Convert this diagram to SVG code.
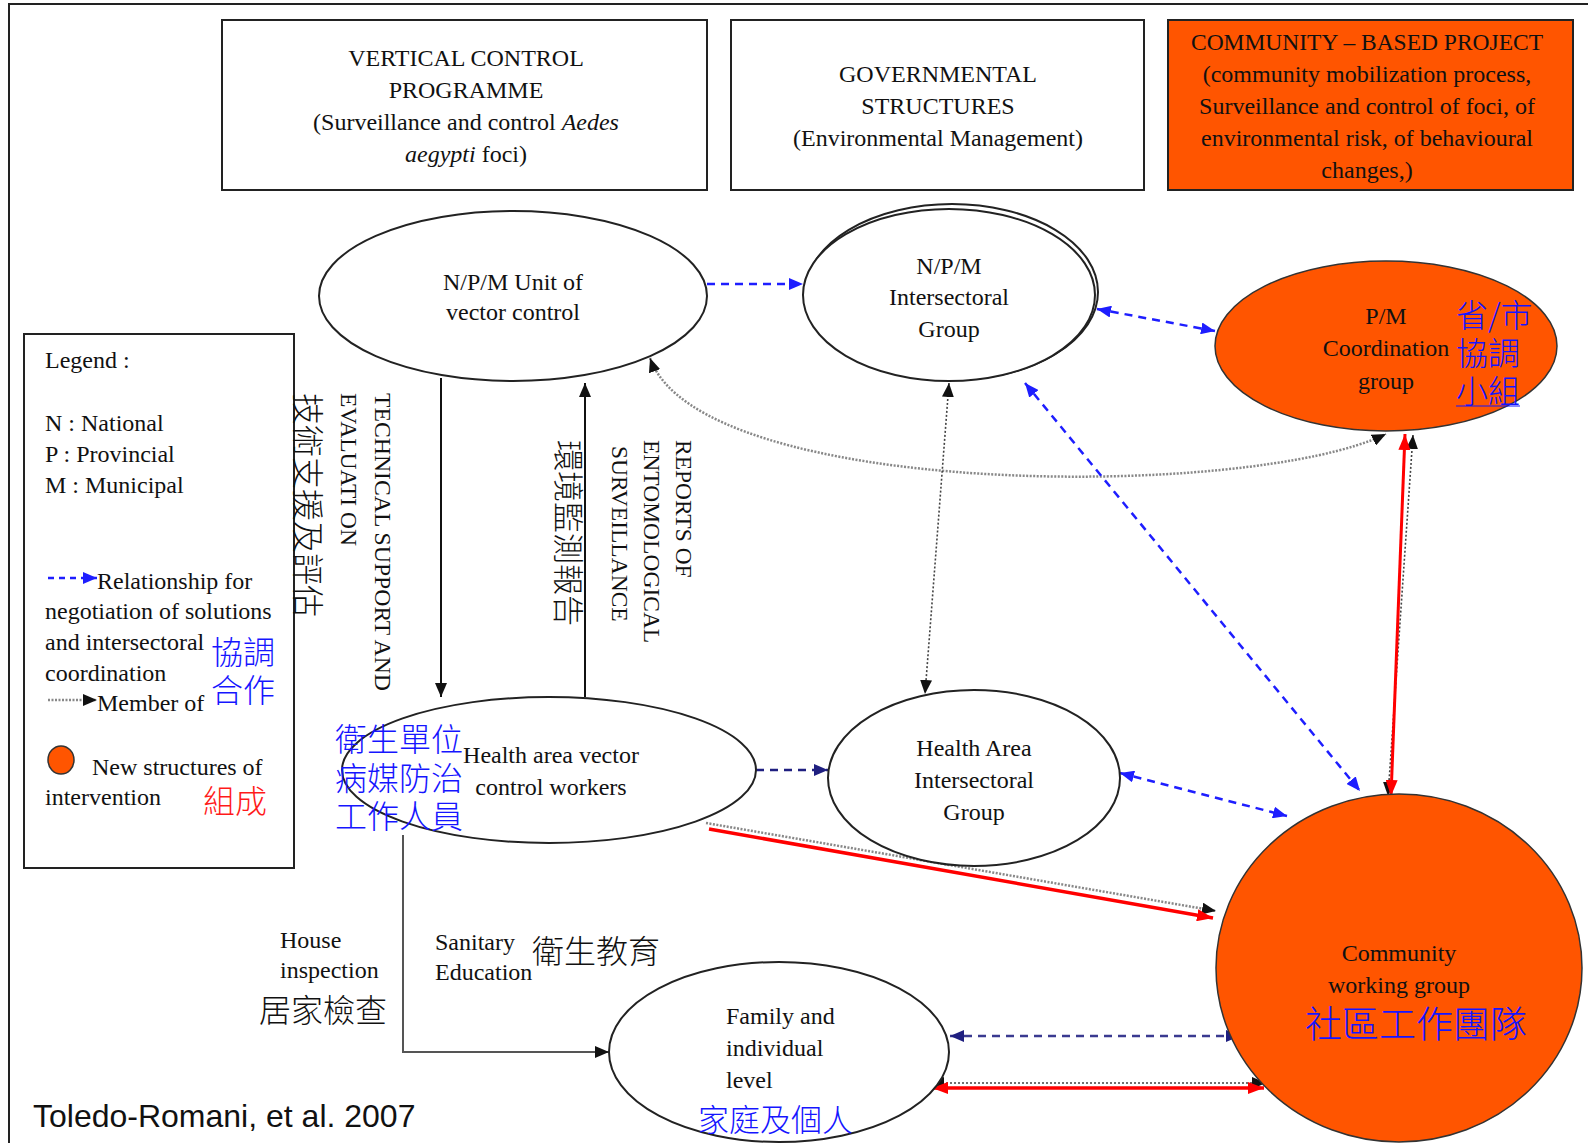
<svg xmlns="http://www.w3.org/2000/svg" width="1588" height="1143" viewBox="0 0 1588 1143">
<defs>
<marker id="mBlue" markerUnits="userSpaceOnUse" markerWidth="14" markerHeight="12" refX="14" refY="6" orient="auto-start-reverse"><path d="M0,0 L14,6 L0,12 z" fill="#1E1EFF"/></marker>
<marker id="mNavy" markerUnits="userSpaceOnUse" markerWidth="14" markerHeight="12" refX="14" refY="6" orient="auto-start-reverse"><path d="M0,0 L14,6 L0,12 z" fill="#1F1F80"/></marker>
<marker id="mBlack" markerUnits="userSpaceOnUse" markerWidth="14" markerHeight="12" refX="14" refY="6" orient="auto-start-reverse"><path d="M0,0 L14,6 L0,12 z" fill="#111"/></marker>
<marker id="mRed" markerUnits="userSpaceOnUse" markerWidth="16" markerHeight="12" refX="16" refY="6" orient="auto-start-reverse"><path d="M0,0 L16,6 L0,12 z" fill="#FF0000"/></marker>
</defs>
<style>
.t{font-family:"Liberation Serif","Times New Roman",serif;font-size:24px;fill:#111}
.c{text-anchor:middle}
.cjk{font-family:"Noto Sans CJK TC","Noto Sans CJK SC",sans-serif;font-size:32px;font-weight:300}
.blue{fill:#1515FF}
.red{fill:#FF1A1A}
.blk{fill:#111}
.rot{font-family:"Liberation Serif","Times New Roman",serif;font-size:23.5px;fill:#111}
.box{fill:#fff;stroke:#222;stroke-width:2}
.obox{fill:#FF5500;stroke:#222;stroke-width:2}
.el{fill:#fff;stroke:#222;stroke-width:2}
.oel{fill:#FF5500;stroke:#333;stroke-width:1.5}
.bd{fill:none;stroke:#1E1EFF;stroke-width:2.5;stroke-dasharray:8 6}
.nd{fill:none;stroke:#1F1F80;stroke-width:2.5;stroke-dasharray:8 6}
.dot{fill:none;stroke:#444;stroke-width:1.6;stroke-dasharray:2 2}
.gdot{fill:none;stroke:#888;stroke-width:2.5;stroke-dasharray:2 1.5}
.sol{fill:none;stroke:#111;stroke-width:2}
.rd{fill:none;stroke:#FF0000;stroke-width:3.5}
</style>
<rect width="1588" height="1143" fill="#fff"/>
<path d="M9,1143 L9,4 L1588,4" fill="none" stroke="#222" stroke-width="2"/>

<g id="box-vertical">
<rect class="box" x="222" y="20" width="485" height="170"/>
<text class="t c" x="466" y="66">VERTICAL  CONTROL</text>
<text class="t c" x="466" y="98">PROGRAMME</text>
<text class="t c" x="466" y="130">(Surveillance and control <tspan font-style="italic">Aedes</tspan></text>
<text class="t c" x="466" y="162"><tspan font-style="italic">aegypti</tspan> foci)</text>
</g>
<g id="box-governmental">
<rect class="box" x="731" y="20" width="413" height="170"/>
<text class="t c" x="938" y="82">GOVERNMENTAL</text>
<text class="t c" x="938" y="114">STRUCTURES</text>
<text class="t c" x="938" y="146">(Environmental Management)</text>
</g>
<g id="box-community">
<rect class="obox" x="1168" y="20" width="405" height="170"/>
<text class="t c" x="1367" y="50" textLength="352" lengthAdjust="spacingAndGlyphs">COMMUNITY – BASED PROJECT</text>
<text class="t c" x="1367" y="82">(community mobilization process,</text>
<text class="t c" x="1367" y="114">Surveillance and control of foci, of</text>
<text class="t c" x="1367" y="146">environmental risk, of behavioural</text>
<text class="t c" x="1367" y="178">changes,)</text>
</g>

<g id="legend">
<rect x="24" y="334" width="270" height="534" fill="#fff" stroke="#222" stroke-width="2"/>
<text class="t" x="45" y="368">Legend :</text>
<text class="t" x="45" y="431">N : National</text>
<text class="t" x="45" y="462">P : Provincial</text>
<text class="t" x="45" y="493">M : Municipal</text>
<path class="bd" d="M48,578 L97,578" marker-end="url(#mBlue)" style="stroke-dasharray:6 5"/>
<text class="t" x="97" y="589">Relationship for</text>
<text class="t" x="45" y="619">negotiation of solutions</text>
<text class="t" x="45" y="650">and intersectoral</text>
<text class="t" x="45" y="681">coordination</text>
<path class="gdot" d="M48,700 L97,700" marker-end="url(#mBlack)"/>
<text class="t" x="97" y="711">Member of</text>
<text class="cjk blue" x="211" y="664">協調</text>
<text class="cjk blue" x="211" y="702">合作</text>
<ellipse cx="61" cy="760" rx="13" ry="14" fill="#FF5500" stroke="#333" stroke-width="1.5"/>
<text class="t" x="92" y="775">New structures of</text>
<text class="t" x="45" y="805">intervention</text>
<text class="cjk red" x="203" y="813">組成</text>
</g>

<g id="connectors">
<path class="bd" d="M707,284 L803,284" marker-end="url(#mBlue)"/>
<path class="bd" d="M1097,309 L1215,331" marker-start="url(#mBlue)" marker-end="url(#mBlue)"/>
<path class="gdot" d="M650,358 C700,500 1250,500 1386,434" marker-start="url(#mBlack)" marker-end="url(#mBlack)"/>
<path class="dot" d="M949,383 L925,694" marker-start="url(#mBlack)" marker-end="url(#mBlack)"/>
<path class="bd" d="M1025,383 L1360,791" marker-start="url(#mBlue)" marker-end="url(#mBlue)"/>
<path class="dot" d="M1413,435 L1388,796" marker-start="url(#mBlack)" marker-end="url(#mBlack)"/>
<path class="rd" d="M1405,434 L1391,796" marker-start="url(#mRed)" marker-end="url(#mRed)" style="stroke-width:3"/>
<path class="nd" d="M756,770 L828,770" marker-end="url(#mNavy)"/>
<path class="bd" d="M1120,773 L1287,816" marker-start="url(#mBlue)" marker-end="url(#mBlue)"/>
<path class="gdot" d="M706,823 L1216,911" marker-end="url(#mBlack)"/>
<path class="rd" d="M709,829 L1213,918" marker-end="url(#mRed)"/>
<path class="sol" d="M403,835 L403,1052 L609,1052" marker-end="url(#mBlack)" style="stroke:#555"/>
<path class="nd" d="M950,1036 L1240,1036" marker-start="url(#mNavy)" marker-end="url(#mNavy)" style="stroke:#3A3A90"/>
<path class="dot" d="M930,1083 L1266,1083" marker-start="url(#mBlack)" marker-end="url(#mBlack)"/>
<path class="rd" d="M932,1088 L1264,1088" marker-start="url(#mRed)" marker-end="url(#mRed)"/>
<path class="sol" d="M441,378 L441,697" marker-end="url(#mBlack)"/>
<path class="sol" d="M585,697 L585,383" marker-end="url(#mBlack)"/>
</g>

<g id="label-technical">
<text class="rot" transform="translate(375,393) rotate(90)" textLength="298" lengthAdjust="spacingAndGlyphs">TECHNICAL SUPPORT AND</text>
<text class="rot" transform="translate(341,393) rotate(90)">EVALUATI ON</text>
<text class="cjk blk" transform="translate(296,393) rotate(90)">技術支援及評估</text>
</g>
<g id="label-reports">
<text class="rot" transform="translate(676,440) rotate(90)">REPORTS OF</text>
<text class="rot" transform="translate(644,440) rotate(90)">ENTOMOLOGICAL</text>
<text class="rot" transform="translate(612,446) rotate(90)">SURVEILLANCE</text>
<text class="cjk blk" style="font-size:31px" transform="translate(557,440) rotate(90)">環境監測報告</text>
</g>

<g id="node-npm-unit">
<ellipse class="el" cx="513" cy="296" rx="194" ry="85"/>
<text class="t c" x="513" y="290">N/P/M Unit of</text>
<text class="t c" x="513" y="320">vector control</text>
</g>
<g id="node-npm-intersectoral">
<ellipse class="el" cx="952" cy="292" rx="146" ry="88"/>
<ellipse class="el" cx="949" cy="295" rx="146" ry="86"/>
<text class="t c" x="949" y="274">N/P/M</text>
<text class="t c" x="949" y="305">Intersectoral</text>
<text class="t c" x="949" y="337">Group</text>
</g>
<g id="node-pm-coordination">
<ellipse class="oel" cx="1386" cy="346" rx="171" ry="85"/>
<text class="t c" x="1386" y="324">P/M</text>
<text class="t c" x="1386" y="356">Coordination</text>
<text class="t c" x="1386" y="389">group</text>
<text class="cjk blue" x="1456" y="327">省/市</text>
<text class="cjk blue" x="1456" y="365">協調</text>
<text class="cjk blue" x="1456" y="403">小組</text>
<path d="M1456,406 L1520,406" stroke="#1515FF" stroke-width="1.2"/>
</g>
<g id="node-health-area-workers">
<ellipse class="el" cx="549" cy="770" rx="207" ry="73"/>
<text class="t c" x="551" y="763">Health area vector</text>
<text class="t c" x="551" y="795">control workers</text>
<text class="cjk blue" x="335" y="751">衛生單位</text>
<text class="cjk blue" x="335" y="790">病媒防治</text>
<text class="cjk blue" x="335" y="828">工作人員</text>
</g>
<g id="node-health-area-intersectoral">
<ellipse class="el" cx="974" cy="778" rx="146" ry="88"/>
<text class="t c" x="974" y="756">Health Area</text>
<text class="t c" x="974" y="788">Intersectoral</text>
<text class="t c" x="974" y="820">Group</text>
</g>
<g id="node-community-working-group">
<ellipse class="oel" cx="1399" cy="968" rx="183" ry="174"/>
<text class="t c" x="1399" y="961">Community</text>
<text class="t c" x="1399" y="993">working group</text>
<text class="cjk blue c" x="1416" y="1038" style="font-size:37px">社區工作團隊</text>
</g>
<g id="node-family">
<ellipse class="el" cx="779" cy="1052" rx="170" ry="90"/>
<text class="t" x="726" y="1024">Family and</text>
<text class="t" x="726" y="1056">individual</text>
<text class="t" x="726" y="1088">level</text>
<text class="cjk blue" x="698" y="1131" style="font-size:31px">家庭及個人</text>
</g>

<g id="labels-bottom">
<text class="t" x="280" y="948">House</text>
<text class="t" x="280" y="978">inspection</text>
<text class="cjk blk" x="259" y="1022">居家檢查</text>
<text class="t" x="435" y="950">Sanitary</text>
<text class="t" x="435" y="980">Education</text>
<text class="cjk blk" x="532" y="963">衛生教育</text>
<text x="33" y="1127" style="font-family:'Liberation Sans',Arial,sans-serif;font-size:32px;fill:#111">Toledo-Romani, et al. 2007</text>
</g>
</svg>
